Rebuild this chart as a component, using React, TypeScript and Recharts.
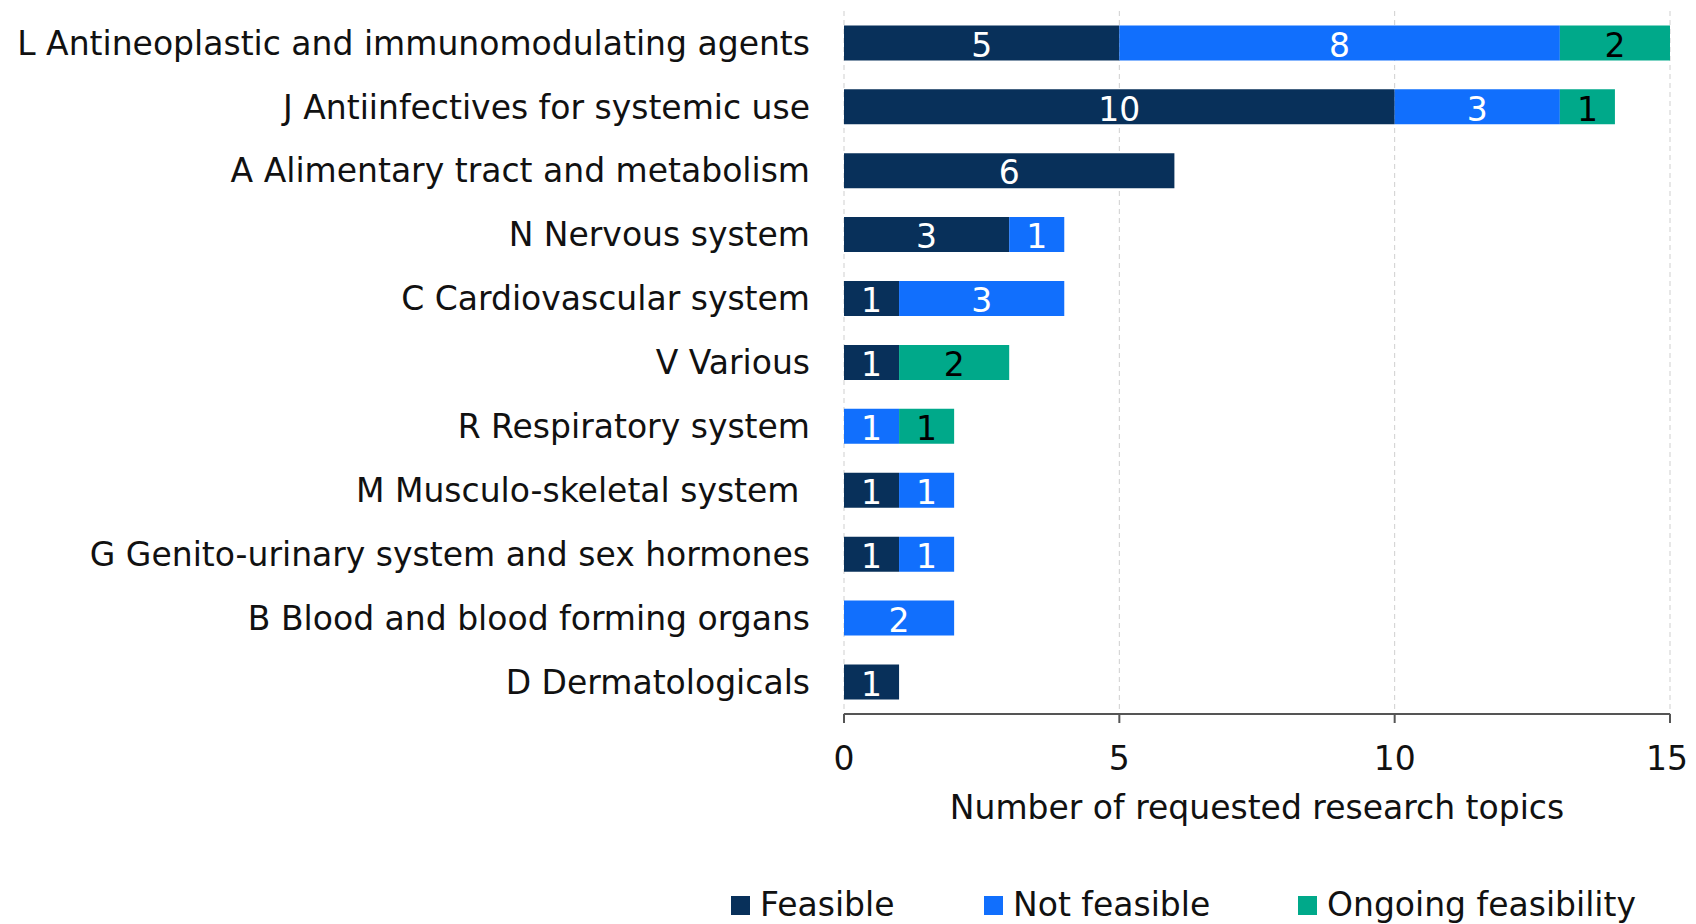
import { BarChart, Bar, XAxis, YAxis, CartesianGrid, LabelList, Legend } from 'recharts';

const categories = [
  'L Antineoplastic and immunomodulating agents',
  'J Antiinfectives for systemic use',
  'A Alimentary tract and metabolism',
  'N Nervous system',
  'C Cardiovascular system',
  'V Various',
  'R Respiratory system',
  'M Musculo-skeletal system\u00a0',
  'G Genito-urinary system and sex hormones',
  'B Blood and blood forming organs',
  'D Dermatologicals',
];

const feasible    = [5, 10, 6, 3, 1, 1, 0, 1, 1, 0, 1];
const notFeasible = [8, 3, 0, 1, 3, 0, 1, 1, 1, 2, 0];
const ongoing     = [2, 1, 0, 0, 0, 2, 1, 0, 0, 0, 0];

const xTicks = [0, 5, 10, 15];

const SERIES = [
  { key: 'feasible',    name: 'Feasible',            fill: '#08305a', text: '#ffffff', legendX: 723 },
  { key: 'notFeasible', name: 'Not feasible',        fill: '#116ffd', text: '#ffffff', legendX: 976 },
  { key: 'ongoing',     name: 'Ongoing feasibility', fill: '#00a98a', text: '#000000', legendX: 1290 },
];

const data = categories.map((name, i) => ({
  name,
  feasible: feasible[i],
  notFeasible: notFeasible[i],
  ongoing: ongoing[i],
}));

const FONT = '"DejaVu Sans", Verdana, sans-serif';
const FONT_SIZE = 33;

// Hide labels of empty segments
const hideZero = (v: any) => (v ? v : '');

function LegendRow() {
  return (
    <div style={{ position: 'relative', width: 1680, height: 50, fontFamily: FONT, fontSize: FONT_SIZE, color: '#111' }}>
      {SERIES.map((s) => (
        <div
          key={s.key}
          style={{ position: 'absolute', left: s.legendX, top: 11, height: 40, display: 'flex', alignItems: 'center' }}
        >
          <span style={{ display: 'inline-block', width: 19, height: 19, background: s.fill, marginRight: 10 }} />
          <span style={{ lineHeight: '40px' }}>{s.name}</span>
        </div>
      ))}
    </div>
  );
}

export default function App() {
  return (
    <div style={{ width: 1680, height: 916 }}>
      <BarChart
        width={1680}
        height={916}
        data={data}
        layout="vertical"
        barCategoryGap="22.5%"
        margin={{ top: 3, right: 18, left: 0, bottom: 0 }}
      >
        <CartesianGrid horizontal={false} stroke="#cfcfcf" strokeDasharray="5 4" />
        <XAxis
          type="number"
          domain={[0, 15]}
          ticks={xTicks}
          height={160}
          tickSize={9}
          tickMargin={24}
          axisLine={{ stroke: '#555', strokeWidth: 2 }}
          tickLine={{ stroke: '#555', strokeWidth: 2 }}
          tick={{ fill: '#111', fontFamily: FONT, fontSize: FONT_SIZE }}
          label={{
            value: 'Number of requested research topics',
            position: 'insideTop',
            offset: 82,
            fill: '#111',
            fontFamily: FONT,
            fontSize: FONT_SIZE,
          }}
        />
        <YAxis
          type="category"
          dataKey="name"
          width={836}
          axisLine={false}
          tickLine={false}
          tickSize={0}
          tickMargin={34}
          interval={0}
          tick={{ fill: '#111', fontFamily: FONT, fontSize: FONT_SIZE }}
        />
        {SERIES.map((s) => (
          <Bar key={s.key} dataKey={s.key} name={s.name} stackId="a" fill={s.fill} isAnimationActive={false}>
            <LabelList
              dataKey={s.key}
              position="center"
              formatter={hideZero}
              fill={s.text}
              dy={2}
              style={{ fontFamily: FONT, fontSize: FONT_SIZE }}
            />
          </Bar>
        ))}
        <Legend
          verticalAlign="bottom"
          height={50}
          wrapperStyle={{ left: 0, width: 1680 }}
          content={() => <LegendRow />}
        />
      </BarChart>
    </div>
  );
}
